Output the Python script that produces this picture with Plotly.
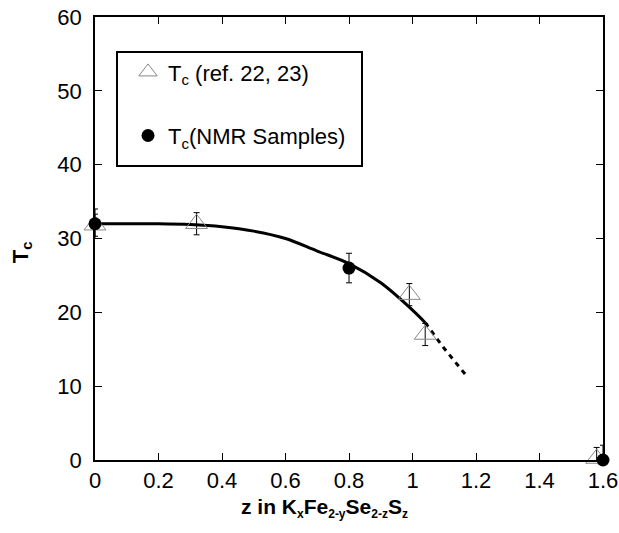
import plotly.graph_objects as go

# Tc from refs 22, 23 (open triangles)
ref_z = [0.0, 0.32, 0.99, 1.04, 1.58]
ref_tc = [31.8, 32.0, 22.4, 17.0, 0.2]
ref_err = [1.5, 1.5, 1.5, 1.5, 1.5]

# Tc of NMR samples (filled circles)
nmr_z = [0.0, 0.8, 1.6]
nmr_tc = [32.0, 26.0, 0.0]
nmr_err = [2.0, 2.0, 2.0]

# guide-to-the-eye curve (solid) and its dotted extrapolation
fit_z = [0.0, 0.1, 0.2, 0.3, 0.4, 0.5, 0.6, 0.7, 0.8, 0.9, 1.0, 1.04]
fit_tc = [32.0, 32.0, 32.0, 31.9, 31.6, 31.0, 30.0, 28.3, 26.6, 24.0, 20.3, 18.6]
ext_z = [1.04, 1.1, 1.17]
ext_tc = [18.6, 15.1, 11.4]

x_ticks = [0, 0.2, 0.4, 0.6, 0.8, 1.0, 1.2, 1.4, 1.6]
y_ticks = [0, 10, 20, 30, 40, 50, 60]

FONT = "Liberation Sans, Arial, Helvetica, sans-serif"


def sub(t, size=13):
    return f'<sub><span style="font-size:{size}px">{t}</span></sub>'


fig = go.Figure()

fig.add_trace(go.Scatter(
    x=fit_z, y=fit_tc, mode="lines",
    line=dict(color="black", width=3, shape="spline", smoothing=1.0),
    showlegend=False, hoverinfo="skip"))
fig.add_trace(go.Scatter(
    x=ext_z, y=ext_tc, mode="lines",
    line=dict(color="black", width=3, dash="5px,5px"),
    showlegend=False, hoverinfo="skip"))

fig.add_trace(go.Scatter(
    x=ref_z, y=ref_tc, mode="markers",
    name="T" + sub("c", 15) + " (ref. 22, 23)", legendgroup="a",
    marker=dict(symbol="triangle-up-open", size=19, color="#888888",
                line=dict(width=1, color="#888888")),
    error_y=dict(type="data", array=ref_err, color="black", thickness=1, width=3),
    cliponaxis=False))

fig.add_trace(go.Scatter(
    x=nmr_z, y=nmr_tc, mode="markers",
    name="T" + sub("c", 15) + "(NMR Samples)", legendgroup="b",
    marker=dict(symbol="circle", size=13, color="black"),
    error_y=dict(type="data", array=nmr_err, color="black", thickness=1, width=3),
    cliponaxis=False))

axis_common = dict(
    showgrid=False, zeroline=False, showline=True, linecolor="black",
    linewidth=1.5, mirror="ticks", ticks="inside", ticklen=7,
    tickwidth=1, tickcolor="black", automargin=False,
    ticklabeloverflow="allow",
    tickfont=dict(family=FONT, size=22, color="black"),
)

fig.update_xaxes(range=[0, 1.6], tickvals=x_ticks, ticklabelstandoff=0,
                 **axis_common)
fig.update_yaxes(range=[0, 60], tickvals=y_ticks, ticklabelstandoff=7,
                 **axis_common)

# x-axis title
fig.add_annotation(
    xref="paper", yref="paper", x=0.452, y=-0.075,
    xanchor="center", yanchor="top", showarrow=False,
    text="<b>z in K" + sub("x", 12) + "Fe" + sub("2-y", 12) + "Se" + sub("2-z", 12)
         + "S" + sub("z", 12) + "</b>",
    font=dict(family=FONT, size=21, color="black"))

# y-axis title
fig.add_annotation(
    xref="paper", yref="paper", x=-0.145, y=0.47,
    xanchor="center", yanchor="middle", showarrow=False, textangle=-90,
    text="<b>T" + sub("c", 15) + "</b>",
    font=dict(family=FONT, size=22, color="black"))

# legend frame
fig.add_shape(type="rect", xref="paper", yref="paper",
              x0=0.0433, x1=0.5256, y0=0.6637, y1=0.921,
              line=dict(color="black", width=2), fillcolor="rgba(0,0,0,0)",
              layer="above")

fig.update_layout(
    width=619, height=533,
    margin=dict(l=95, r=16, t=17, b=73),
    plot_bgcolor="white", paper_bgcolor="white",
    font=dict(family=FONT, size=22, color="black"),
    legend=dict(
        x=0.065, y=0.923, xanchor="left", yanchor="top",
        borderwidth=0, bgcolor="rgba(0,0,0,0)",
        font=dict(family=FONT, size=22, color="black"),
        tracegroupgap=32, itemwidth=30,
    ),
)

fig.write_html("out.html",
               config={"displayModeBar": False},
               post_script="document.body.style.margin='0px';"
                           "document.body.style.overflow='hidden';")
